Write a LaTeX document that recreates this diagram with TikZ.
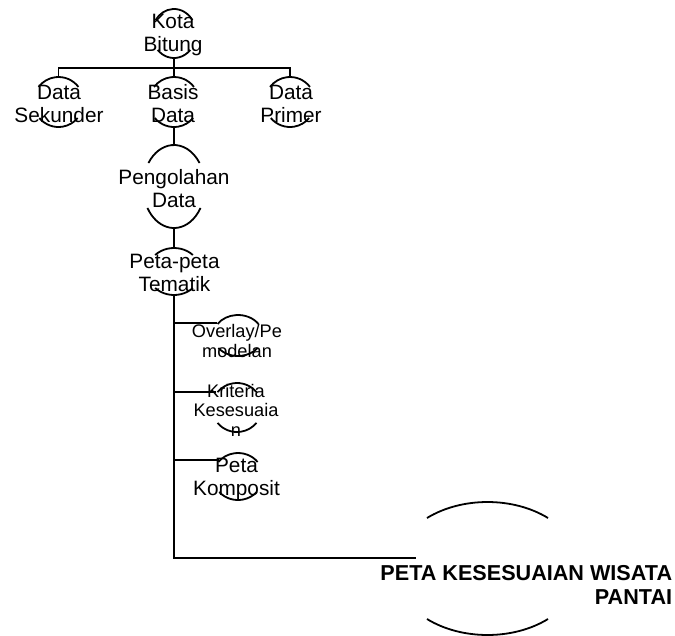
\documentclass[tikz,border=0pt]{standalone}
\usepackage{fontspec}
\setmainfont{Liberation Sans}
\usetikzlibrary{shapes.geometric}
\newcommand\ovalarcs[5]{%
  \draw ([shift={(#4:#2 and #3)}]#1.center) arc[start angle=#4, end angle={180-#4}, x radius=#2, y radius=#3];
  \draw ([shift={({180+#5}:#2 and #3)}]#1.center) arc[start angle={180+#5}, end angle={360-#5}, x radius=#2, y radius=#3];}
\begin{document}
\begin{tikzpicture}[x=1pt,y=1pt, line width=1.8pt,
  oval/.style={shape=ellipse, draw=none, inner sep=0pt},
  lbl/.style={inner sep=0pt, align=center, anchor=base, font=\fontsize{20.8}{23}\selectfont},
  lbls/.style={inner sep=0pt, align=center, anchor=base, font=\fontsize{18.2}{19.5}\selectfont},
  finlbl/.style={inner sep=0pt, align=right, anchor=base east, font=\bfseries\fontsize{21.6}{24}\selectfont}]
\useasboundingbox (0,0) rectangle (675,-635);
% shapes
\node[oval, minimum width=44pt, minimum height=49pt] (kota) at (174,-33.5) {};
\node[oval, minimum width=50pt, minimum height=50pt] (sek) at (58.5,-102) {};
\node[oval, minimum width=50pt, minimum height=50pt] (basis) at (174,-102) {};
\node[oval, minimum width=50pt, minimum height=50pt] (prim) at (290,-102) {};
\node[oval, minimum width=62pt, minimum height=83pt] (peng) at (174,-186.5) {};
\node[oval, minimum width=53pt, minimum height=47pt] (tem) at (174,-271.5) {};
\node[oval, minimum width=49.4pt, minimum height=41pt] (ovl) at (238,-335.5) {};
\node[oval, minimum width=50pt, minimum height=49pt] (krit) at (237,-407.5) {};
\node[oval, minimum width=50pt, minimum height=47pt] (komp) at (238,-476.5) {};
\node[oval, minimum width=186pt, minimum height=133pt] (fin) at (487.5,-568.5) {};
\ovalarcs{kota}{22}{24.5}{33}{42}
\ovalarcs{sek}{25}{25}{37}{40}
\ovalarcs{basis}{25}{25}{37}{40}
\ovalarcs{prim}{25}{25}{37}{40}
\ovalarcs{peng}{31}{41.5}{34.5}{31.2}
\ovalarcs{tem}{26.5}{23.5}{44.6}{44.6}
\ovalarcs{ovl}{24.7}{20.5}{34.1}{37.6}
\ovalarcs{krit}{25}{24.5}{39}{39}
\ovalarcs{komp}{25}{23.5}{38.1}{41.3}
\ovalarcs{fin}{93}{66.5}{49.4}{49.4}
% connectors
\coordinate (bar) at (174,-68);
\coordinate (finin) at ([shift={(-71.5,10.5)}]fin.center);
\draw (kota.south) -- (basis.north);
\draw (sek.north) |- (bar) -| (prim.north);
\draw (basis.south) -- (peng.north);
\draw (peng.south) -- (tem.north);
\draw (tem.south) |- (finin);
\draw (ovl.150) -- (ovl.150 -| tem.south);
\draw (krit.144) -- (krit.144 -| tem.south);
\draw (komp.140) -- (komp.140 -| tem.south);
% texts (anchor = baseline of the last line)
\node[lbl] (t-kota) at (173,-51) {Kota\\Bitung};
\node[lbl] (t-sek) at (59,-122) {Data\\Sekunder};
\node[lbl] (t-basis) at (173,-122) {Basis\\Data};
\node[lbl] (t-prim) at (291,-122) {Data\\Primer};
\node[lbl] (t-peng) at (174,-207) {Pengolahan\\Data};
\node[lbl] (t-tem) at (174.5,-291) {Peta-peta\\Tematik};
\node[lbls] (t-ovl) at (237,-357) {Overlay/Pe\\modelan};
\node[lbls] (t-krit) at (236,-436) {Kriteria\\Kesesuaia\\n};
\node[lbl] (t-komp) at (236.5,-495) {Peta\\Komposit};
\node[finlbl] (t-fin) at (673,-604) {PETA KESESUAIAN WISATA\\PANTAI};
\end{tikzpicture}
\end{document}
